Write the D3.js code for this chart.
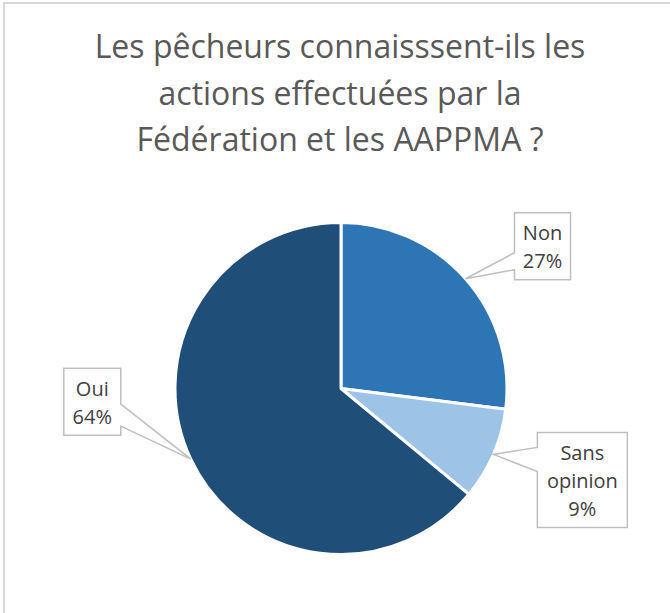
<!DOCTYPE html>
<html>
<head>
<meta charset="utf-8">
<script src="https://cdn.jsdelivr.net/npm/d3@7"></script>
<style>
  html, body { margin: 0; padding: 0; background: #fff; }
  svg { display: block; }
</style>
</head>
<body>
<svg id="chart" width="670" height="613"></svg>
<script>
// Survey answers and their shares (percent)
const categories = ["Non", "Sans opinion", "Oui"];
const shares = [27, 9, 64];
const colors = ["#2E75B6", "#9DC3E6", "#1F4E79"];
// How each category name wraps inside its callout
const nameLines = [["Non"], ["Sans", "opinion"], ["Oui"]];
const titleLines = [
  "Les pêcheurs connaisssent-ils les",
  "actions effectuées par la",
  "Fédération et les AAPPMA ?"
];

// Callout geometry, relative to the point where the pointer touches the slice
const callouts = [
  { dx: 49,   dy: -66, w: 56, side: "left",  b0: 40, b1: 57 },
  { dx: 44,   dy: -22, w: 90, side: "left",  b0: 15, b1: 39 },
  { dx: -127, dy: -91, w: 57, side: "right", b0: 36, b1: 58 }
];

const W = 670, H = 613;
const cx = 341, cy = 388.5, R = 166;
const lineStep = 28;

const svg = d3.select("#chart");

// Chart area frame
svg.append("rect")
  .attr("x", 4).attr("y", 3)
  .attr("width", W + 20).attr("height", H + 20)
  .attr("fill", "#fff")
  .attr("stroke", "#d9d9d9")
  .attr("stroke-width", 2);

// Title
svg.append("g")
  .selectAll("text")
  .data(titleLines)
  .join("text")
  .attr("x", 340)
  .attr("y", (d, i) => 58 + i * 46.5)
  .attr("text-anchor", "middle")
  .attr("font-family", "'Open Sans', sans-serif")
  .attr("font-size", 32)
  .attr("fill", "#595959")
  .text(d => d);

// Pie
const data = categories.map((c, i) => ({ name: c, value: shares[i], color: colors[i], i }));
const pie = d3.pie().sort(null).value(d => d.value).startAngle(0).endAngle(2 * Math.PI);
const arcs = pie(data);
const arc = d3.arc().innerRadius(0).outerRadius(R);

const g = svg.append("g").attr("transform", `translate(${cx},${cy})`);
g.selectAll("path")
  .data(arcs)
  .join("path")
  .attr("d", arc)
  .attr("fill", d => d.data.color)
  .attr("stroke", "#fff")
  .attr("stroke-width", 3)
  .attr("stroke-linejoin", "round");

// Data callouts
const labels = svg.append("g");
arcs.forEach(a => {
  const mid = (a.startAngle + a.endAngle) / 2;
  const tx = cx + R * Math.sin(mid);
  const ty = cy - R * Math.cos(mid);
  const c = callouts[a.data.i];
  const lines = nameLines[a.data.i].concat([a.data.value + "%"]);
  const h = lines.length * lineStep + 11;
  const x = tx + c.dx, y = ty + c.dy;
  let p;
  if (c.side === "left") {
    p = `M${x},${y}H${x + c.w}V${y + h}H${x}V${y + c.b1}L${tx},${ty}L${x},${y + c.b0}Z`;
  } else {
    p = `M${x},${y}H${x + c.w}V${y + c.b0}L${tx},${ty}L${x + c.w},${y + c.b1}V${y + h}H${x}Z`;
  }
  labels.append("path")
    .attr("d", p)
    .attr("fill", "#fff")
    .attr("stroke", "#bfbfbf")
    .attr("stroke-width", 1.5)
    .attr("stroke-linejoin", "miter");
  labels.append("g")
    .selectAll("text")
    .data(lines)
    .join("text")
    .attr("x", x + c.w / 2)
    .attr("y", (d, k) => y + 27.5 + k * lineStep)
    .attr("text-anchor", "middle")
    .attr("font-family", "'Open Sans', sans-serif")
    .attr("font-size", 20)
    .attr("fill", "#404040")
    .text(d => d);
});
</script>
</body>
</html>
